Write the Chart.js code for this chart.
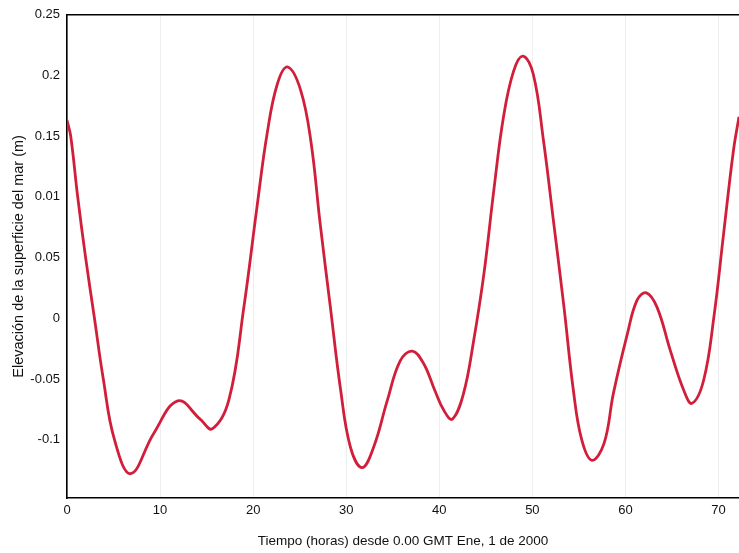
<!DOCTYPE html>
<html>
<head>
<meta charset="utf-8">
<script src="https://cdn.jsdelivr.net/npm/chart.js@4/dist/chart.umd.min.js"></script>
<style>
  html, body { margin: 0; padding: 0; background: #fff; }
  #wrap { width: 739px; height: 553px; }
</style>
</head>
<body>
<div id="wrap"><canvas id="myChart" width="739" height="553"></canvas></div>
<script>
// hours since 0.00 GMT, 1 Jan 2000
var hours = [0, 0.4, 1.15, 2.0, 2.95, 3.9, 5.1, 6.85, 9.3, 11.9,
             14.3, 15.6, 17.4, 19.0, 20.4, 21.5, 22.6, 23.72, 25.1, 26.2,
             27.2, 28.3, 29.4, 30.45, 31.7, 32.95, 34.4, 35.8, 37.1, 38.3,
             39.5, 40.5, 41.4, 42.6, 43.7, 44.8, 45.85, 46.9, 48.0, 49.0,
             50.1, 51.2, 52.3, 53.4, 54.4, 55.3, 56.4, 57.7, 58.7, 60.2,
             61.25, 62.25, 63.4, 64.8, 66.25, 67.15, 68.4, 69.5, 70.55, 71.6,
             72.2];
// sea surface elevation (m)
var elevation = [0.163, 0.150, 0.100, 0.050, 0.000, -0.050, -0.100, -0.128, -0.095, -0.068,
                 -0.083, -0.091, -0.067, 0.009, 0.091, 0.152, 0.193, 0.207, 0.188, 0.146,
                 0.078, 0.009, -0.059, -0.106, -0.123, -0.106, -0.068, -0.035, -0.027, -0.037,
                 -0.059, -0.076, -0.083, -0.062, -0.018, 0.037, 0.105, 0.166, 0.204, 0.216,
                 0.201, 0.146, 0.078, 0.009, -0.059, -0.100, -0.117, -0.103, -0.062, -0.013,
                 0.015, 0.021, 0.009, -0.026, -0.059, -0.070, -0.051, 0.001, 0.070, 0.138,
                 0.166];

var xTickValues = [0, 10, 20, 30, 40, 50, 60, 70];
var yTickValues = [-0.1, -0.05, 0, 0.05, 0.1, 0.15, 0.2, 0.25];
var yTickLabels = ["-0.1", "-0.05", "0", "0.05", "0.01", "0.15", "0.2", "0.25"];

var points = [];
for (var i = 0; i < hours.length; i++) {
  points.push({x: hours[i], y: elevation[i]});
}

var tickFont = {family: "'Liberation Sans', Arial, sans-serif", size: 13};

function createChart() {
  var ctx = document.getElementById('myChart').getContext('2d');
  var chart = new Chart(ctx, {
    type: 'line',
    data: {
      datasets: [{
        data: points,
        borderColor: '#d11f3b',
        borderWidth: 2.8,
        pointRadius: 0,
        fill: false,
        tension: 0.4
      }]
    },
    options: {
      responsive: false,
      animation: false,
      layout: { padding: { top: 11, right: 0, left: 0, bottom: 0 } },
      plugins: {
        legend: { display: false },
        tooltip: { enabled: false }
      },
      scales: {
        x: {
          type: 'linear',
          min: 0,
          max: 72.2,
          afterBuildTicks: function (scale) {
            scale.ticks = xTickValues.map(function (v) { return {value: v}; });
          },
          afterFit: function (scale) { scale.height = 55; },
          ticks: { font: tickFont, color: '#111', padding: 5, maxRotation: 0 },
          grid: { color: '#eeeeee', drawTicks: false },
          border: { color: '#000', width: 1.6 },
          title: {
            display: true,
            text: 'Tiempo (horas) desde 0.00 GMT Ene, 1 de 2000',
            font: {family: "'Liberation Sans', Arial, sans-serif", size: 13.5},
            color: '#111',
            padding: { top: 0, bottom: 4 }
          }
        },
        x2: {
          type: 'linear',
          position: 'top',
          min: 0,
          max: 72.2,
          afterFit: function (scale) { scale.height = 0; },
          ticks: { display: false },
          grid: { display: false, drawTicks: false },
          border: { color: '#000', width: 1.6 }
        },
        y: {
          min: -0.148,
          max: 0.25,
          afterBuildTicks: function (scale) {
            scale.ticks = yTickValues.map(function (v) { return {value: v}; });
          },
          afterFit: function (scale) { scale.width = 67; },
          ticks: {
            font: tickFont,
            color: '#111',
            padding: 7,
            callback: function (value, index) { return yTickLabels[index]; }
          },
          grid: { display: false, drawTicks: false },
          border: { color: '#000', width: 1.6 },
          title: {
            display: true,
            text: 'Elevación de la superficie del mar (m)',
            font: {family: "'Liberation Sans', Arial, sans-serif", size: 14.5},
            color: '#111',
            padding: { top: 10, bottom: 0 }
          }
        }
      }
    }
  });
}

createChart();
</script>
</body>
</html>
